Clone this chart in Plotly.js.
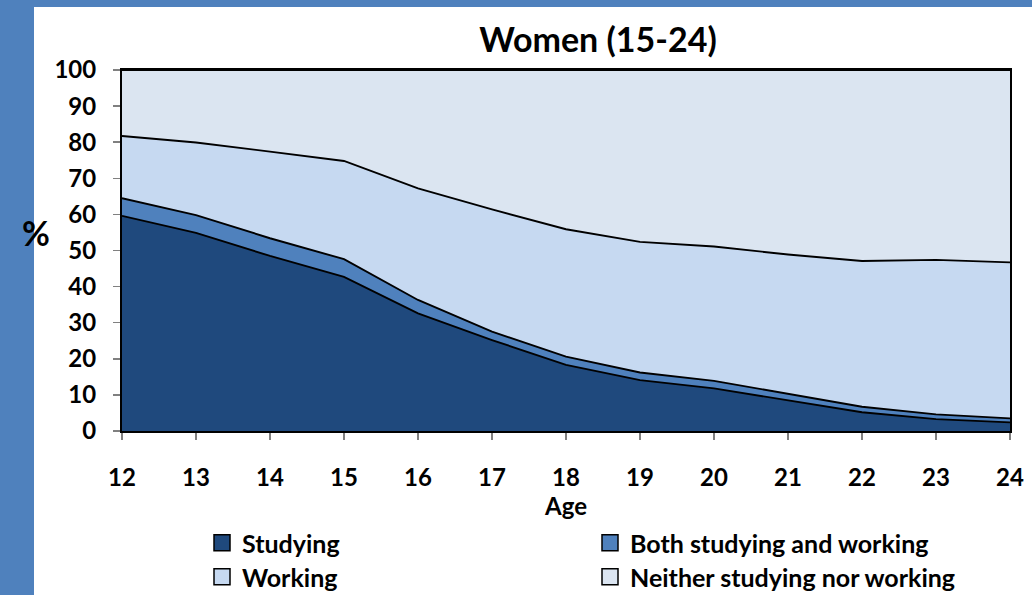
<!DOCTYPE html>
<html>
<head>
<meta charset="utf-8">
<script src="https://cdn.plot.ly/plotly-3.0.1.min.js"></script>
<style>html,body{margin:0;padding:0;background:#fff;}#chart{width:1032px;height:595px;}</style>
</head>
<body>
<div id="chart"></div>
<script>
// Age categories
const ages = [12, 13, 14, 15, 16, 17, 18, 19, 20, 21, 22, 23, 24];
// Share of women (%) by activity, stacked to 100
const studying = [59.6, 54.9, 48.5, 42.7, 32.6, 25.2, 18.3, 14.1, 11.8, 8.6, 5.2, 3.3, 2.4];
const both     = [4.9, 4.9, 4.9, 4.9, 3.7, 2.3, 2.3, 2.1, 2.1, 1.8, 1.5, 1.3, 1.1];
const working  = [17.2, 20.1, 24.0, 27.2, 30.9, 33.9, 35.3, 36.2, 37.2, 38.5, 40.4, 42.8, 43.2];
const neither  = [18.3, 20.1, 22.6, 25.2, 32.8, 38.6, 44.1, 47.6, 48.9, 51.1, 52.9, 52.6, 53.3];
const seriesNames = ["Studying", "Both studying and working", "Working", "Neither studying nor working"];
const yTicks = [0, 10, 20, 30, 40, 50, 60, 70, 80, 90, 100];

const colors = ["#1f497d", "#4f81bd", "#c6d9f1", "#dbe5f1"];
const FONT = "Lato, 'Open Sans', sans-serif";
const seriesData = [studying, both, working, neither];

const traces = [];
seriesData.forEach((vals, i) => {
  traces.push({
    type: "scatter", mode: "lines", x: ages, y: vals, stackgroup: "one",
    name: seriesNames[i], showlegend: false, hoverinfo: "x+y+name",
    line: {color: "#000", width: 1.9}, fillcolor: colors[i]
  });
});
// legend proxies (square swatches)
seriesData.forEach((vals, i) => {
  traces.push({
    type: "scatter", mode: "markers", x: [null], y: [null],
    name: seriesNames[i], legend: i < 2 ? "legend" : "legend2",
    marker: {symbol: "square", size: 16, color: colors[i], line: {color: "#000", width: 1.5}}
  });
});

const plotW = 888, plotH = 361, L = 122, T = 70;
function px2x(p) { return (p - L) / plotW; }
function py2y(p) { return (T + plotH - p) / plotH; }

const legendCommon = {
  orientation: "h", xref: "container", yref: "container",
  xanchor: "left", yanchor: "middle", traceorder: "normal",
  entrywidth: 343, entrywidthmode: "pixels",
  font: {family: FONT, size: 25, color: "#000", weight: "bold"},
  bgcolor: "rgba(0,0,0,0)", itemclick: false
};

const layout = {
  width: 1032, height: 595,
  margin: {l: L, r: 1032 - L - plotW, t: T, b: 595 - T - plotH},
  paper_bgcolor: "#4f81bd",
  plot_bgcolor: "#dbe5f1",
  showlegend: true,
  title: {text: "Women (15-24)", x: 598 / 1032, xanchor: "center", y: 1 - 40 / 595, yanchor: "middle",
          font: {family: FONT, size: 34, color: "#000", weight: "bold"}},
  xaxis: {
    range: [12, 24], tickvals: ages, ticktext: ages.map(String),
    showgrid: false, zeroline: false,
    ticks: "outside", ticklen: 7, tickcolor: "#808080", tickwidth: 1.5,
    showline: true, linecolor: "#000", linewidth: 2, mirror: true,
    ticklabelstandoff: 17,
    tickfont: {family: FONT, size: 24, color: "#000", weight: "bold"},
    title: {text: "Age", standoff: 0, font: {family: FONT, size: 24, color: "#000", weight: "bold"}}
  },
  yaxis: {
    range: [0, 100], tickvals: yTicks, ticktext: yTicks.map(String),
    showgrid: false, zeroline: false,
    ticks: "outside", ticklen: 7, tickcolor: "#808080", tickwidth: 1.5,
    showline: true, linecolor: "#000", linewidth: 2, mirror: true,
    ticklabelstandoff: 12,
    tickfont: {family: FONT, size: 24, color: "#000", weight: "bold"}
  },
  legend: Object.assign({}, legendCommon, {x: 202 / 1032, y: 1 - 543 / 595}),
  legend2: Object.assign({}, legendCommon, {x: 202 / 1032, y: 1 - 577 / 595}),
  shapes: [
    {type: "rect", xref: "paper", yref: "paper", layer: "below",
     x0: px2x(34), x1: px2x(1040), y0: py2y(600), y1: py2y(7),
     fillcolor: "#ffffff", line: {width: 0}}
  ],
  annotations: [
    {text: "%", xref: "paper", yref: "paper", x: px2x(36), y: py2y(232), xanchor: "center", yanchor: "middle",
     showarrow: false, font: {family: FONT, size: 34, color: "#000", weight: "bold"}}
  ]
};

Plotly.newPlot("chart", traces, layout, {displayModeBar: false, staticPlot: true});
</script>
</body>
</html>
